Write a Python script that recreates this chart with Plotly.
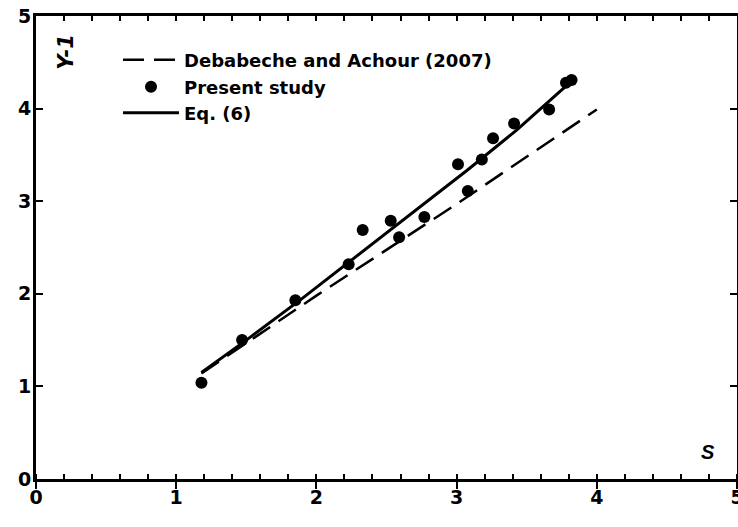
import plotly.graph_objects as go

# Present study (measured points)
s_points = [1.18, 1.47, 1.85, 2.23, 2.33, 2.53, 2.59, 2.77, 3.01, 3.08, 3.18, 3.26, 3.41, 3.66, 3.78, 3.82]
y_points = [1.04, 1.50, 1.93, 2.32, 2.69, 2.79, 2.61, 2.83, 3.40, 3.11, 3.45, 3.68, 3.84, 3.99, 4.28, 4.31]

# Debabeche and Achour (2007) curve
s_deb = [1.18, 2.0, 3.0, 4.0]
y_deb = [1.14, 1.98, 2.97, 3.99]

# Eq. (6) curve
s_eq = [1.18, 1.5, 1.89, 2.5, 2.81, 3.08, 3.43, 3.8]
y_eq = [1.15, 1.50, 1.94, 2.66, 3.02, 3.34, 3.77, 4.27]

x_ticks = [0, 1, 2, 3, 4, 5]
y_ticks = [0, 1, 2, 3, 4, 5]

FONT = "Arial, Liberation Sans, sans-serif"
WIDE = "DejaVu Sans, sans-serif"

fig = go.Figure()
fig.add_trace(go.Scatter(x=s_deb, y=y_deb, mode="lines", name="Debabeche and Achour (2007)",
                         line=dict(color="black", width=2.5, dash="21px,10px"), legend="legend"))
fig.add_trace(go.Scatter(x=s_points, y=y_points, mode="markers", name="Present study",
                         marker=dict(color="black", size=12), legend="legend2"))
fig.add_trace(go.Scatter(x=s_eq, y=y_eq, mode="lines", name="Eq. (6)",
                         line=dict(color="black", width=3), legend="legend3"))
# dummy trace so top axis is rendered
fig.add_trace(go.Scatter(x=[], y=[], xaxis="x2", showlegend=False, hoverinfo="skip"))

leg_common = dict(x=0.117, xanchor="left", yanchor="middle", bgcolor="rgba(0,0,0,0)",
                  font=dict(size=18, family=WIDE, weight="bold"), itemwidth=56)
# row centres at pixel y 60, 87, 113 of plot spanning 16..479
leg_rows = [(479 - 60) / 463, (479 - 87) / 463, (479 - 113) / 463]

fig.update_layout(
    width=738, height=527,
    margin=dict(l=36, r=1, t=16, b=48),
    paper_bgcolor="white", plot_bgcolor="white",
    font=dict(family=FONT, color="black"),
    showlegend=True,
    legend=dict(y=leg_rows[0], **leg_common),
    legend2=dict(y=leg_rows[1], **leg_common),
    legend3=dict(y=leg_rows[2], **leg_common),
    xaxis=dict(range=[0, 5], tickvals=x_ticks, ticktext=[str(v) for v in x_ticks], automargin=False,
               showgrid=False, zeroline=False, showline=True, linecolor="black", linewidth=3,
               ticks="outside", ticklen=7, tickwidth=2, tickcolor="black", ticklabeloverflow="allow",
               tickfont=dict(size=19, family=WIDE, weight="bold"), ticklabelstandoff=-8,
               minor=dict(dtick=0.2, ticks="inside", ticklen=5, tickwidth=2, tickcolor="black", showgrid=False)),
    xaxis2=dict(range=[0, 5], overlaying="x", side="top", dtick=0.2, tick0=0, automargin=False,
                showgrid=False, zeroline=False, showline=True, linecolor="black", linewidth=3,
                ticks="inside", ticklen=5, tickwidth=2, tickcolor="black", showticklabels=False),
    yaxis=dict(range=[0, 5], tickvals=y_ticks, ticktext=[str(v) for v in y_ticks], automargin=False,
               showgrid=False, zeroline=False, showline=True, linecolor="black", linewidth=3,
               mirror="ticks", ticks="inside", ticklen=7, tickwidth=2, tickcolor="black",
               ticklabeloverflow="allow",
               tickfont=dict(size=19, family=WIDE, weight="bold"), ticklabelstandoff=-2),
)

fig.add_annotation(x=0.218, y=4.61, xref="x", yref="y", text="Y-1", textangle=-90, showarrow=False,
                   font=dict(size=21, family=WIDE, weight="bold", style="italic"))
fig.add_annotation(x=4.79, y=0.29, xref="x", yref="y", text="S", showarrow=False,
                   font=dict(size=20, family=FONT, weight="bold", style="italic"))

fig.write_html("out.html", config={"displayModeBar": False},
               post_script="document.body.style.margin='0';")
